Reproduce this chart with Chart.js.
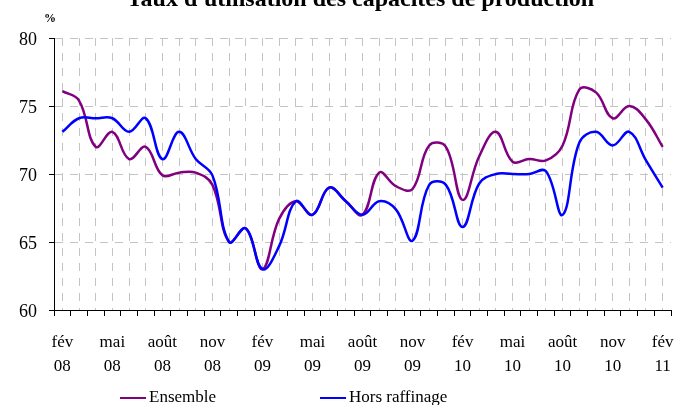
<!DOCTYPE html>
<html lang="fr">
<head>
<meta charset="UTF-8">
<title>Taux d'utilisation des capacités de production</title>
<script src="https://cdn.jsdelivr.net/npm/chart.js"></script>
<style>
    body { margin: 0; background: #fff; font-family: 'Liberation Serif', serif; color: #000; }
    .wrap { position: relative; width: 685px; height: 405px; overflow: hidden; }
    #title { position: absolute; left: 18px; top: -14px; width: 685px; text-align: center; font-weight: bold; font-size: 24px; line-height: 24px; }
    #unit { position: absolute; left: 44px; top: 11px; font-weight: bold; font-size: 12px; }
    #legend { position: absolute; left: 0; top: 387px; width: 685px; height: 20px; font-size: 17px; }
    #legend .item { position: absolute; top: 0; line-height: 20px; white-space: nowrap; }
    #legend .swatch { display: inline-block; width: 26px; height: 2px; vertical-align: middle; margin-right: 3px; }
</style>
</head>
<body>
<div class="wrap">
    <canvas id="chart" width="685" height="405"></canvas>
    <div id="title">Taux d'utilisation des capacités de production</div>
    <div id="unit">%</div>
    <div id="legend"></div>
</div>
<script>
// months, fév 08 -> fév 11
const months = ['fév 08','mars 08','avr 08','mai 08','juin 08','juil 08','août 08','sept 08','oct 08','nov 08','déc 08','janv 09',
                'fév 09','mars 09','avr 09','mai 09','juin 09','juil 09','août 09','sept 09','oct 09','nov 09','déc 09','janv 10',
                'fév 10','mars 10','avr 10','mai 10','juin 10','juil 10','août 10','sept 10','oct 10','nov 10','déc 10','janv 11',
                'fév 11'];
const ensemble = [76.1, 75.4, 72.0, 73.1, 71.1, 72.0, 69.9, 70.1, 70.1, 69.2, 65.0, 66.0,
                  63.0, 66.7, 68.0, 67.0, 69.0, 68.0, 67.0, 70.1, 69.1, 68.9, 72.1, 72.0,
                  68.1, 71.3, 73.1, 70.9, 71.1, 71.0, 72.1, 76.2, 76.0, 74.1, 75.0, 74.0,
                  72.0];
const horsRaffinage = [73.1, 74.1, 74.1, 74.1, 73.1, 74.1, 71.1, 73.1, 71.1, 69.9, 65.0, 66.0,
                       63.0, 64.7, 68.0, 67.0, 69.0, 68.0, 67.0, 68.0, 67.4, 65.1, 69.2, 69.2,
                       66.1, 69.3, 70.0, 70.0, 70.0, 70.2, 67.0, 72.3, 73.1, 72.1, 73.1, 71.0,
                       69.0];
const yTicks = [60, 65, 70, 75, 80];
const seriesNames = ['Ensemble', 'Hors raffinage'];
const seriesColors = ['#800080', '#0000ff'];

const serif = 'Liberation Serif';
const gridGray = '#c4c4c4';

const chart = new Chart(document.getElementById('chart'), {
    type: 'line',
    data: {
        labels: months,
        datasets: [
            { label: seriesNames[0], data: ensemble, borderColor: seriesColors[0], borderWidth: 2.5, tension: 0.4, pointRadius: 0, order: 1 },
            { label: seriesNames[1], data: horsRaffinage, borderColor: seriesColors[1], borderWidth: 2.5, tension: 0.4, pointRadius: 0, order: 0 }
        ]
    },
    options: {
        responsive: false,
        animation: false,
        events: [],
        layout: { padding: { top: 38, right: 14, bottom: 0, left: 0 } },
        plugins: { legend: { display: false }, tooltip: { enabled: false } },
        scales: {
            x: {
                offset: true,
                grid: { offset: true, drawOnChartArea: false, tickLength: 6, color: '#000' },
                border: { color: '#000', width: 1 },
                ticks: {
                    autoSkip: false, maxRotation: 0, padding: 15, color: '#000',
                    font: { family: serif, size: 17, lineHeight: 1.4 },
                    callback: (v, i) => i % 3 === 0 ? months[i].split(' ') : ''
                },
                // fixed height, and no extra side padding for the end labels
                afterFit: s => { s.height = 95; s.paddingLeft = 0; s.paddingRight = 0; }
            },
            xGrid: {
                type: 'category', axis: 'x', position: 'top', offset: true,
                ticks: { display: false },
                grid: { offset: false, drawTicks: false, color: gridGray },
                border: { display: false, dash: [8, 7] },
                afterFit: s => { s.height = 0; s.paddingLeft = 0; s.paddingRight = 0; }
            },
            y: {
                min: 60, max: 80,
                afterBuildTicks: s => { s.ticks = yTicks.map(v => ({ value: v })); },
                ticks: { padding: 12, labelOffset: 2, color: '#000', font: { family: serif, size: 18 } },
                grid: {
                    color: c => (c.tick && c.tick.value === 60) ? 'rgba(0,0,0,0)' : gridGray,
                    tickColor: '#000', tickLength: 5
                },
                border: { color: '#000', width: 1, dash: [8, 7] },
                afterFit: s => { s.width = 54; }
            }
        }
    }
});

// legend in html, placed like the original
const legendX = [120, 320];
const legend = document.getElementById('legend');
chart.data.datasets.forEach((ds, i) => {
    const item = document.createElement('span');
    item.className = 'item';
    item.style.left = legendX[i] + 'px';
    item.innerHTML = '<span class="swatch" style="background:' + ds.borderColor + '"></span>' + ds.label;
    legend.appendChild(item);
});
</script>
</body>
</html>
